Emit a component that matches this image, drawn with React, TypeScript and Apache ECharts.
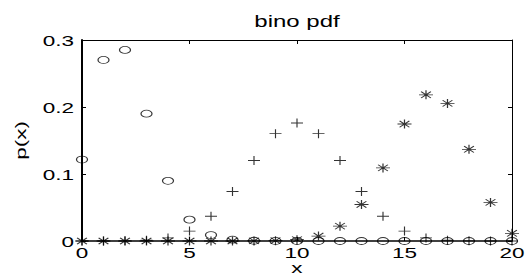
import React, { useEffect, useRef } from "react";
import * as echarts from "echarts";

const xs = [0, 1, 2, 3, 4, 5, 6, 7, 8, 9, 10, 11, 12, 13, 14, 15, 16, 17, 18, 19, 20];
const pLow = [0.1216, 0.2702, 0.2852, 0.1901, 0.0898, 0.0319, 0.0089, 0.002, 0.0004, 0.0001, 0, 0, 0, 0, 0, 0, 0, 0, 0, 0, 0];
const pMid = [0, 0, 0.0002, 0.0011, 0.0046, 0.0148, 0.037, 0.0739, 0.1201, 0.1602, 0.1762, 0.1602, 0.1201, 0.0739, 0.037, 0.0148, 0.0046, 0.0011, 0.0002, 0, 0];
const pHigh = [0, 0, 0, 0, 0, 0, 0, 0, 0.0001, 0.0005, 0.002, 0.0074, 0.0222, 0.0545, 0.1091, 0.1746, 0.2182, 0.2054, 0.1369, 0.0576, 0.0115];
const xTicks = [0, 5, 10, 15, 20];
const yTicks = [0, 0.1, 0.2, 0.3];
const yTickLabels = ["0", "0.1", "0.2", "0.3"];
const titleText = "bino pdf";
const xName = "x";
const yName = "p(x)";

const FONT = "'Liberation Sans', Arial, Helvetica, sans-serif";
const SX = 1.5;

const plusPath = "path://M0,5L10,5M5,0L5,10";
const starPath = "path://M0,5L10,5M5,0L5,10M1.5,1.5L8.5,8.5M1.5,8.5L8.5,1.5";
const ellPath = "path://M0,3A4,3 0 1,0 8,3A4,3 0 1,0 0,3Z";

function txt(text: string, x: number, y: number, size: number, align: string, vAlign: string, rotation = 0) {
  return {
    type: "text",
    x,
    y,
    scaleX: SX,
    rotation,
    silent: true,
    z: 10,
    style: {
      text,
      font: `${size}px ${FONT}`,
      fill: "#000",
      align,
      verticalAlign: vAlign,
      textAlign: align,
      textVerticalAlign: vAlign,
    },
  };
}

export default function App() {
  const ref = useRef<HTMLDivElement>(null);
  useEffect(() => {
    const chart = echarts.init(ref.current!, null, { renderer: "svg" });
    const mk = (arr: number[]) => xs.map((x, i) => [x, arr[i]]);
    const markerStyle = { color: "rgba(0,0,0,0)", borderColor: "#000", borderWidth: 1 };
    const tick = { show: true, inside: true, length: 4, lineStyle: { color: "#000", width: 1 } };
    chart.setOption({
      animation: false,
      grid: { left: 82, right: 17, top: 40, bottom: 37, show: false },
      xAxis: [
        {
          type: "value",
          min: 0,
          max: 20,
          interval: 5,
          axisLine: { show: true, onZero: false, lineStyle: { color: "#000", width: 1.5 } },
          axisTick: tick,
          axisLabel: { show: false },
          splitLine: { show: false },
        },
        {
          type: "value",
          position: "top",
          min: 0,
          max: 20,
          interval: 5,
          axisLine: { show: true, onZero: false, lineStyle: { color: "#000", width: 1 } },
          axisTick: tick,
          axisLabel: { show: false },
          splitLine: { show: false },
        },
      ],
      yAxis: [
        {
          type: "value",
          min: 0,
          max: 0.3,
          interval: 0.1,
          axisLine: { show: true, onZero: false, lineStyle: { color: "#000", width: 2 } },
          axisTick: tick,
          axisLabel: { show: false },
          splitLine: { show: false },
        },
        {
          type: "value",
          position: "right",
          min: 0,
          max: 0.3,
          interval: 0.1,
          axisLine: { show: true, onZero: false, lineStyle: { color: "#000", width: 1 } },
          axisTick: tick,
          axisLabel: { show: false },
          splitLine: { show: false },
        },
      ],
      series: [
        {
          type: "scatter",
          data: mk(pLow),
          symbol: ellPath,
          symbolSize: [11, 7],
          symbolKeepAspect: false,
          itemStyle: markerStyle,
          z: 3,
        },
        {
          type: "scatter",
          data: mk(pMid),
          symbol: plusPath,
          symbolSize: [12, 9],
          symbolKeepAspect: false,
          itemStyle: markerStyle,
          z: 3,
        },
        {
          type: "scatter",
          data: mk(pHigh),
          symbol: starPath,
          symbolSize: [14, 9],
          symbolKeepAspect: false,
          itemStyle: markerStyle,
          z: 3,
        },
      ],
    });

    const px = (v: number) => chart.convertToPixel({ xAxisIndex: 0 }, v) as number;
    const py = (v: number) => chart.convertToPixel({ yAxisIndex: 0 }, v) as number;
    const x0 = px(0);
    const x1 = px(20);
    const y0 = py(0);
    const y1 = py(0.3);
    const elements: any[] = [];
    xTicks.forEach((t) => elements.push(txt(String(t), px(t), y0 + 12, 15, "center", "middle")));
    yTicks.forEach((t, i) => elements.push(txt(yTickLabels[i], x0 - 8, py(t) + 1, 15, "right", "middle")));
    elements.push(txt(titleText, (x0 + x1) / 2, y1 - 18, 16, "center", "middle"));
    elements.push(txt(xName, (x0 + x1) / 2, y0 + 27, 15, "center", "middle"));
    elements.push(txt(yName, 21, (y0 + y1) / 2, 15, "center", "middle", Math.PI / 2));
    chart.setOption({ graphic: { elements } });

    return () => chart.dispose();
  }, []);
  return <div ref={ref} style={{ width: 529, height: 278, position: "absolute", left: 0, top: 0 }} />;
}
